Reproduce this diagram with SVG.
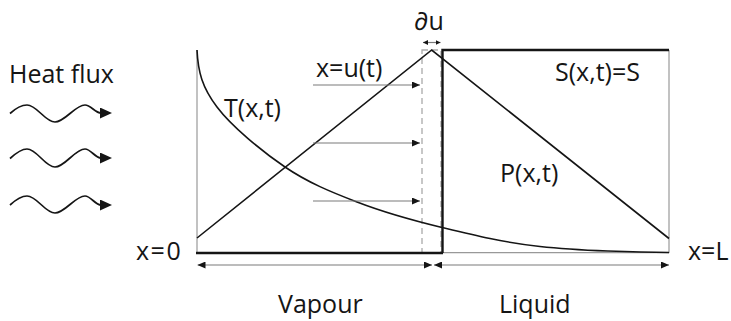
<svg xmlns="http://www.w3.org/2000/svg" width="731" height="321" viewBox="0 0 731 321">
<style>
text{font-family:"Open Sans","Liberation Sans",sans-serif;fill:#151515;}
.lbl{font-size:25px;}
.thin{stroke:#999;stroke-width:1.2;fill:none;}
.thick{stroke:#151515;stroke-width:2.4;fill:none;}
.line{stroke:#151515;stroke-width:1.6;fill:none;}
.dash{stroke:#aaa;stroke-width:1.3;fill:none;stroke-dasharray:6 4;}
.arr{stroke:#7a7a7a;stroke-width:1.2;fill:none;}
.wave{stroke:#151515;stroke-width:1.7;fill:none;}
</style>
<defs>
<marker id="ah" viewBox="0 0 8 7" refX="8" refY="3.5" markerWidth="8" markerHeight="7" markerUnits="userSpaceOnUse" orient="auto-start-reverse">
<path d="M0,0 L8,3.5 L0,7 Z" fill="#151515"/>
</marker>
<marker id="wh" viewBox="0 0 12 11" refX="1" refY="5.5" markerWidth="12" markerHeight="11" markerUnits="userSpaceOnUse" orient="0">
<path d="M0,0 L12,5.5 L0,11 Z" fill="#151515"/>
</marker>
<marker id="sh" viewBox="0 0 5 5" refX="5" refY="2.5" markerWidth="5" markerHeight="5" markerUnits="userSpaceOnUse" orient="auto-start-reverse">
<path d="M0,0 L5,2.5 L0,5 Z" fill="#151515"/>
</marker>
</defs>

<g id="heat-flux">
<text class="lbl" x="9" y="83">Heat flux</text>
<path class="wave" d="M10,113.5 C16,108 21,105 27,105 C37,105 45,122 55,122 C65,122 75,105 85,105 C91,105 95,113 101,113" marker-end="url(#wh)"/>
<path class="wave" d="M10,158.5 C16,153 21,149 27,149 C37,149 45,167 55,167 C65,167 75,149 85,149 C91,149 95,158 101,158" marker-end="url(#wh)"/>
<path class="wave" d="M10,205 C16,199.5 21,196 27,196 C37,196 45,213 55,213 C65,213 75,196 85,196 C91,196 95,205 101,205" marker-end="url(#wh)"/>
</g>

<g id="domain">
<line class="thin" x1="197" y1="50" x2="197" y2="253"/>
<line class="thin" x1="669" y1="50" x2="669" y2="253"/>
<line class="thin" x1="442" y1="252.7" x2="669" y2="252.7"/>
<rect class="dash" x="422" y="50" width="19" height="203"/>
<line class="thick" x1="196" y1="253" x2="443" y2="253"/>
<polyline class="thick" points="442.5,253 442.5,50 669,50"/>
</g>

<g id="profiles">
<polyline class="line" points="197,238 431.7,50 669,238.5"/>
<path class="line" d="M197,50 C198,72 202.3,87.5 217,107 C231.7,126.5 261.7,151.2 285,167 C308.3,182.8 330.8,191.9 357,202 C383.2,212.1 411.5,220.1 442,227.5 C472.5,234.9 502.2,242.3 540,246.5 C577.8,250.7 640,252.5 669,252.5"/>
</g>

<g id="connectors">
<line class="arr" x1="313" y1="85" x2="420" y2="85" marker-end="url(#ah)"/>
<line class="arr" x1="313" y1="143" x2="420" y2="143" marker-end="url(#ah)"/>
<line class="arr" x1="313" y1="201" x2="420" y2="201" marker-end="url(#ah)"/>
<line class="arr" x1="197.5" y1="265" x2="432" y2="265" marker-start="url(#ah)" marker-end="url(#ah)"/>
<line class="arr" x1="434" y1="265" x2="669" y2="265" marker-start="url(#ah)" marker-end="url(#ah)"/>
<line class="arr" x1="423" y1="42.5" x2="440.5" y2="42.5" stroke="#151515" marker-start="url(#sh)" marker-end="url(#sh)"/>
</g>

<g id="labels">
<text class="lbl" x="429" y="30" text-anchor="middle">∂u</text>
<text class="lbl" x="316" y="77">x=u(t)</text>
<text class="lbl" x="224" y="117">T(x,t)</text>
<text class="lbl" x="555" y="81">S(x,t)=S</text>
<text class="lbl" x="500" y="182">P(x,t)</text>
<text class="lbl" x="136" y="260" letter-spacing="1.5">x=0</text>
<text class="lbl" x="688" y="260">x=L</text>
<text class="lbl" x="278" y="313">Vapour</text>
<text class="lbl" x="499" y="313">Liquid</text>
</g>
</svg>
